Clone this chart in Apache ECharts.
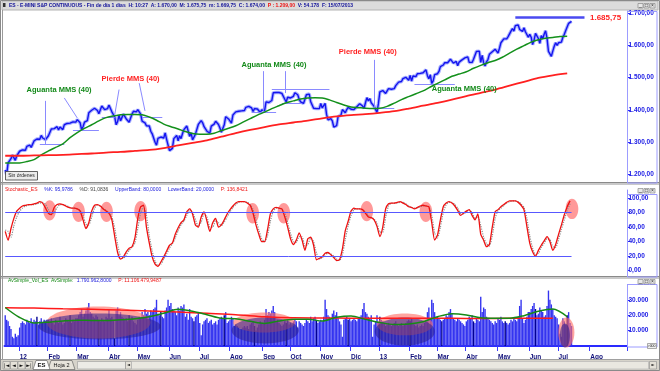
<!DOCTYPE html>
<html><head><meta charset="utf-8">
<script src="https://cdn.jsdelivr.net/npm/echarts@6/dist/echarts.min.js"></script>
<style>html,body{margin:0;padding:0;background:#fff;overflow:hidden}#c{width:660px;height:371px}</style>
</head><body><div id="c"></div>
<script>
// ================= DATA =================
const monthLabels = ['', '12', 'Feb', 'Mar', 'Abr', 'May', 'Jun', 'Jul', 'Ago', 'Sep', 'Oct', 'Nov', 'Dic', '13', 'Feb', 'Mar', 'Abr', 'May', 'Jun', 'Jul', 'Ago'];

// daily closes (ES continuous) per month
const close_2011_12 = [1214, 1200, 1236, 1238, 1249, 1260, 1260, 1244, 1258, 1252];
const close_2012_01 = [1272, 1272, 1276, 1273, 1275, 1287, 1287, 1291, 1284, 1288, 1304, 1310, 1310, 1311, 1309, 1321, 1313, 1311, 1308, 1307];
const close_2012_02 = [1320, 1322, 1341, 1340, 1342, 1346, 1348, 1338, 1347, 1348, 1339, 1354, 1356, 1358, 1353, 1359, 1361, 1363, 1363, 1362];
const close_2012_03 = [1370, 1366, 1360, 1339, 1348, 1362, 1366, 1367, 1391, 1390, 1399, 1400, 1405, 1401, 1398, 1388, 1393, 1412, 1408, 1401, 1399, 1404];
const close_2012_04 = [1415, 1409, 1394, 1394, 1378, 1354, 1364, 1384, 1366, 1366, 1387, 1381, 1372, 1374, 1362, 1367, 1387, 1396, 1399, 1394];
const close_2012_05 = [1401, 1398, 1387, 1365, 1365, 1360, 1351, 1353, 1350, 1334, 1326, 1321, 1300, 1291, 1312, 1314, 1316, 1314, 1313, 1329, 1309, 1306];
const close_2012_06 = [1274, 1280, 1281, 1311, 1311, 1321, 1304, 1320, 1311, 1326, 1339, 1338, 1350, 1348, 1318, 1329, 1307, 1313, 1325, 1322, 1355];
const close_2012_07 = [1358, 1367, 1360, 1348, 1345, 1334, 1334, 1328, 1350, 1346, 1356, 1365, 1369, 1355, 1344, 1331, 1330, 1354, 1379, 1378, 1372];
const close_2012_08 = [1368, 1359, 1384, 1387, 1394, 1395, 1396, 1398, 1397, 1397, 1398, 1408, 1411, 1411, 1406, 1406, 1395, 1404, 1403, 1403, 1404, 1392, 1400];
const close_2012_09 = [1398, 1397, 1425, 1431, 1423, 1426, 1429, 1453, 1459, 1454, 1452, 1454, 1453, 1451, 1448, 1433, 1425, 1439, 1433];
const close_2012_10 = [1437, 1438, 1442, 1453, 1452, 1447, 1433, 1425, 1425, 1420, 1433, 1447, 1452, 1449, 1425, 1425, 1405, 1401, 1404, 1403, 1404];
const close_2012_11 = [1420, 1406, 1410, 1420, 1386, 1369, 1372, 1373, 1366, 1347, 1345, 1351, 1379, 1379, 1384, 1401, 1398, 1391, 1401, 1408, 1408];
const close_2012_12 = [1402, 1399, 1401, 1405, 1410, 1410, 1419, 1421, 1412, 1405, 1422, 1438, 1428, 1435, 1422, 1418, 1411, 1410, 1392, 1420];
const close_2013_01 = [1456, 1453, 1460, 1456, 1451, 1455, 1466, 1466, 1464, 1466, 1466, 1475, 1480, 1486, 1489, 1488, 1497, 1494, 1501, 1496, 1492];
const close_2013_02 = [1507, 1489, 1505, 1506, 1503, 1512, 1512, 1513, 1514, 1515, 1514, 1524, 1506, 1496, 1509, 1482, 1490, 1509, 1509];
const close_2013_03 = [1512, 1519, 1534, 1535, 1539, 1546, 1551, 1546, 1549, 1557, 1553, 1545, 1540, 1550, 1537, 1548, 1543, 1555, 1555, 1561];
const close_2013_04 = [1556, 1564, 1547, 1553, 1547, 1557, 1562, 1581, 1587, 1582, 1547, 1569, 1546, 1536, 1549, 1556, 1572, 1572, 1580, 1576, 1588, 1592];
const close_2013_05 = [1576, 1591, 1608, 1611, 1620, 1626, 1620, 1627, 1627, 1644, 1652, 1644, 1661, 1661, 1663, 1649, 1644, 1643, 1654, 1642, 1648, 1625];
const close_2013_06 = [1634, 1625, 1602, 1616, 1637, 1637, 1621, 1606, 1630, 1620, 1634, 1645, 1622, 1581, 1586, 1566, 1582, 1597, 1608, 1600];
const close_2013_07 = [1608, 1609, 1610, 1625, 1634, 1646, 1647, 1668, 1673, 1674];

// daily volume (thousands) per month
const vol_2011_12 = [20, 17, 16, 13, 11, 6, 5, 8, 6, 7];
const vol_2012_01 = [12, 15, 16, 15, 14, 17, 16, 15, 18, 15, 17, 16, 19, 14, 16, 18, 15, 17, 16, 17];
const vol_2012_02 = [17, 16, 18, 15, 14, 17, 16, 15, 19, 16, 14, 15, 18, 17, 16, 20, 15, 17, 16, 18];
const vol_2012_03 = [18, 20, 22, 24, 19, 21, 23, 25, 28, 22, 21, 19, 18, 20, 19, 17, 16, 18, 17, 16, 19, 18];
const vol_2012_04 = [24, 18, 19, 17, 5, 23, 25, 20, 22, 19, 18, 17, 18, 16, 20, 17, 19, 16, 15, 14];
const vol_2012_05 = [17, 19, 18, 22, 20, 24, 21, 22, 20, 23, 22, 24, 25, 30, 21, 20, 22, 19, 18, 23, 25, 30];
const vol_2012_06 = [26, 28, 24, 23, 22, 20, 25, 23, 26, 25, 27, 19, 21, 17, 24, 19, 18, 16, 19, 20, 22];
const vol_2012_07 = [15, 7, 14, 16, 17, 18, 15, 16, 17, 14, 15, 16, 14, 17, 18, 19, 18, 20, 22, 15, 16];
const vol_2012_08 = [17, 19, 18, 13, 14, 13, 12, 11, 11, 12, 13, 12, 13, 11, 14, 15, 16, 13, 10, 12, 14, 16, 15];
const vol_2012_09 = [15, 17, 24, 20, 22, 21, 23, 26, 22, 16, 17, 15, 14, 13, 14, 16, 15, 17, 14];
const vol_2012_10 = [15, 14, 16, 17, 16, 12, 16, 15, 14, 13, 15, 17, 16, 15, 19, 16, 18, 19, 17, 15, 16];
const vol_2012_11 = [17, 16, 19, 30, 24, 20, 19, 17, 21, 23, 20, 22, 18, 16, 14, 6, 17, 18, 19, 17, 18];
const vol_2012_12 = [16, 17, 18, 17, 16, 18, 19, 20, 24, 28, 22, 21, 19, 18, 20, 6, 14, 16, 20, 15];
const vol_2013_01 = [19, 17, 16, 15, 13, 14, 15, 14, 13, 14, 15, 16, 14, 13, 14, 15, 13, 14, 15, 16, 17];
const vol_2013_02 = [16, 18, 15, 14, 13, 14, 12, 13, 14, 13, 15, 17, 22, 25, 18, 30, 28, 22, 19];
const vol_2013_03 = [19, 18, 17, 16, 17, 18, 20, 19, 22, 24, 21, 18, 17, 16, 18, 17, 16, 15, 14, 13];
const vol_2013_04 = [16, 17, 19, 18, 20, 16, 15, 18, 17, 16, 32, 22, 25, 24, 19, 18, 17, 16, 15, 14, 16, 15];
const vol_2013_05 = [18, 17, 19, 16, 15, 16, 15, 14, 15, 17, 16, 18, 17, 16, 19, 26, 30, 18, 15, 17, 19, 22];
const vol_2013_06 = [22, 24, 26, 28, 24, 20, 21, 25, 23, 22, 19, 20, 26, 36, 30, 27, 24, 20, 19, 18];
const vol_2013_07 = [14, 8, 6, 18, 16, 14, 20, 22, 15, 13];

const closesByMonth = [close_2011_12, close_2012_01, close_2012_02, close_2012_03, close_2012_04, close_2012_05, close_2012_06, close_2012_07, close_2012_08, close_2012_09, close_2012_10, close_2012_11, close_2012_12, close_2013_01, close_2013_02, close_2013_03, close_2013_04, close_2013_05, close_2013_06, close_2013_07];
const volByMonth = [vol_2011_12, vol_2012_01, vol_2012_02, vol_2012_03, vol_2012_04, vol_2012_05, vol_2012_06, vol_2012_07, vol_2012_08, vol_2012_09, vol_2012_10, vol_2012_11, vol_2012_12, vol_2013_01, vol_2013_02, vol_2013_03, vol_2013_04, vol_2013_05, vol_2013_06, vol_2013_07];
const emptySessionsJul = 12;   // rest of July 2013 (no data yet)
const emptySessionsAug = 26;   // August 2013 (no data yet)

// MMS(40) sampled every 5 sessions, MMS(200) every 10 sessions
const ma40Step = 5;
const ma40 = [1236,1236,1236,1240,1246,1261,1273,1284,1295,1314, 1330,1343,1354,1366,1376,1381,1385,1386,1386,1385, 1378,1368,1356,1348,1341,1333,1327,1325,1325,1328, 1336,1343,1351,1362,1373,1384,1393,1404,1413,1422, 1428,1434,1437,1438,1437,1431,1423,1415,1409,1407, 1405,1404,1405,1411,1421,1432,1441,1450,1459,1471, 1482,1493,1504,1511,1518,1529,1538,1546,1553,1563, 1576,1588,1599,1610,1617,1622,1624,1627,1628];
const ma200Step = 10;
const ma200 = [1258,1258,1259,1260,1261,1263,1265,1268,1270,1273, 1276,1282,1290,1298,1306,1317,1328,1338,1347,1355, 1361,1367,1374,1380,1384,1387,1391,1396,1404,1413, 1422,1432,1443,1453,1463,1475,1487,1499,1507,1513];

// Stochastic %K / %D sampled every 2 sessions
const stochStep = 2;
const stochK = [54,42,58,72,82,86,89,90,91,91, 92,93,95,93,86,79,77,87,91,92, 91,89,87,86,86,85,82,70,58,66, 82,90,91,89,85,82,79,70,47,25, 16,19,26,31,33,45,72,88,90,60, 38,19,9,6,12,19,27,35,38,50, 59,66,70,81,85,78,63,60,74,81, 68,54,66,72,60,63,70,78,84,89, 93,95,95,95,93,90,79,63,50,40, 40,56,78,85,87,86,85,74,60,44, 36,42,52,42,28,44,46,35,15,17, 19,24,25,22,18,14,15,30,55,68, 82,86,85,85,84,79,74,73,70,61, 47,60,85,92,93,93,94,95,93,91, 88,87,85,87,89,90,89,88,66,42, 49,70,88,93,95,93,89,83,76,79, 82,84,76,70,78,50,42,33,36,60, 81,84,88,91,94,96,96,96,94,90, 84,61,38,26,20,28,35,41,47,40, 28,36,50,63,77,88,96];
const stochD = [56,54,46,62,74,82,86,89,90,91, 91,92,93,94,91,84,78,80,87,91, 91,90,88,86,86,85,83,76,64,63, 74,86,90,89,86,83,80,74,58,36, 20,17,22,28,32,38,58,80,88,76, 48,27,13,7,9,16,23,31,37,45, 55,63,68,76,83,81,70,61,67,78, 74,60,60,69,66,62,67,74,81,87, 91,94,95,95,94,91,84,70,56,44, 40,48,68,82,86,86,85,79,66,51, 40,39,47,47,34,36,45,40,24,16, 18,22,24,23,20,16,14,22,43,62, 76,84,85,85,84,81,76,73,71,65, 53,53,74,89,93,93,93,94,94,92, 89,87,86,86,88,89,89,88,76,52, 45,60,80,91,94,94,91,86,79,78, 81,83,80,72,74,62,46,37,34,48, 72,83,86,90,93,95,96,96,95,92, 87,72,48,31,22,24,32,38,44,43, 33,32,43,57,70,83,92];
const stochUpper = 80, stochLower = 20;

// volume averages (thousands)
const volMaShortStep = 10;
const volMaShort = [25, 18.5, 15, 15.5, 16.3, 16.8, 16.6, 16.5, 17, 17.7, 19, 21.3, 23.8, 22.5, 20.3, 18, 17.7, 16, 14.6, 16.2, 17.3, 17.4, 16.2, 18.6, 19.4, 17.3, 15.3, 14, 14.3, 15.8, 19, 21, 20.2, 18.3, 18, 18, 19.7, 22.5, 24, 19];
const volMaLongStep = 20;
const volMaLong = [24.9, 24.6, 24.2, 23.9, 23.3, 22.8, 22.1, 21.2, 20.3, 19.0, 18.3, 18.2, 18.1, 18.0, 18.0, 18.0, 17.9, 17.9, 18.0, 18.1];
const darkVolDays = [22, 45, 65, 76, 86, 108, 131, 152, 173, 195, 216, 238, 260, 281, 303, 325, 347, 368, 390];

// ================= ANNOTATIONS (data coordinates) =================
const priceNoteLines = [
  [[27.5,1428],[27.5,1294]], [[23.8,1294],[40.5,1294]], [[41.2,1437],[49.5,1375]], [[47.4,1336],[64.8,1336]],
  [[79.4,1463],[75.9,1385]], [[92.6,1483],[96.7,1397]], [[66.9,1378],[75.9,1378]], [[94.7,1377],[108.5,1377]],
  [[178.7,1520],[178.7,1397]], [[171,1393],[188.4,1393]], [[194,1520],[194,1452]], [[185,1465],[224.5,1465]],
  [[192,1421],[206,1421]], [[255.6,1555],[255.6,1406]], [[252,1406],[269.6,1406]], [[284.2,1478],[312,1478]]
];
const topLevel = 1685.75;
const topLevelSpan = [354, 402];
const priceNotes = [
  {text:'Aguanta MMS (40)', kind:'g', i:14.8, v:1462},
  {text:'Pierde MMS (40)', kind:'r', i:66.9, v:1497},
  {text:'Aguanta MMS (40)', kind:'g', i:164, v:1539},
  {text:'Pierde MMS (40)', kind:'r', i:231.5, v:1579},
  {text:'Aguanta MMS (40)', kind:'g', i:296, v:1466},
  {text:'1.685,75', kind:'r', i:405.8, v:1684.5}
];
const stochMarks = [[30.8,83],[50.9,81],[70.3,81],[94,82],[171.7,79],[193.3,79],[250.9,82],[291.9,81],[393.3,85]];
const volZonesRed = [[64.8,15.3,36,10.4],[179.7,15.3,21.5,6.5],[277.3,14.0,19.4,7.1],[389.4,8.8,5.6,9.7]];
const volZonesBlue = [[65.5,12.7,42.4,8.4],[180.4,10.1,23.3,8.4],[277.3,9.4,20.8,9.1],[388.4,6.8,3.5,7.8]];

// ================= BUILD =================
const cats = [], catLabel = [], closes = [], vols = [];
closesByMonth.forEach((m, mi) => {
  m.forEach((c, d) => {
    cats.push(mi + '_' + d); catLabel.push(d === 0 ? monthLabels[mi] : '');
    closes.push(c); vols.push(volByMonth[mi][d]);
  });
});
for (let k = 0; k < emptySessionsJul; k++) { cats.push('19_e' + k); catLabel.push(''); }
for (let k = 0; k < emptySessionsAug; k++) { cats.push('20_' + k); catLabel.push(k === 0 ? monthLabels[20] : ''); }

const pairs = (arr, step) => arr.map((v, i) => [i * step, v]);
const thou = n => String(Math.round(n)).replace(/\B(?=(\d{3})+(?!\d))/g, '.');
const labelInterval = (idx) => catLabel[idx] !== '';
const FONT = 'Liberation Sans, Arial, sans-serif';
const lastIdx = closes.length - 1;

const volData = vols.map((v, i) => darkVolDays.includes(i) ? {value: v, itemStyle: {color: '#000090'}} : v);

const axisY = (grid, extra) => Object.assign({
  gridIndex: grid, type: 'value', position: 'right', splitLine: {show: false},
  axisLine: {show: true, lineStyle: {color: '#8c8cff', width: 1}},
  axisTick: {show: true, length: 3, lineStyle: {color: '#2b2bff'}},
  axisLabel: {color: '#2020e6', fontSize: 6.5, fontWeight: 'bold', fontFamily: FONT, margin: 1.5, showMinLabel: false, showMaxLabel: false}
}, extra);

const hiddenX = g => ({gridIndex: g, type: 'category', data: cats, boundaryGap: true, show: false});

const option = {
  animation: false,
  backgroundColor: '#ffffff',
  grid: [
    {left: 4.5, right: 33, top: 11, height: 171, containLabel: false, outerBoundsMode: 'none'},
    {left: 4.5, right: 33, top: 190, height: 86, containLabel: false, outerBoundsMode: 'none'},
    {left: 4.5, right: 33, top: 284.4, height: 61.6, containLabel: false, outerBoundsMode: 'none'}
  ],
  xAxis: [
    hiddenX(0), hiddenX(1),
    {gridIndex: 2, type: 'category', data: cats, boundaryGap: true,
      axisLine: {show: true, lineStyle: {color: '#2a2aff', width: 2}},
      axisTick: {show: true, interval: labelInterval, length: 5, lineStyle: {color: '#3a3aff'}},
      axisLabel: {interval: labelInterval, formatter: (val, idx) => catLabel[idx], align: 'left', color: '#10107a', fontSize: 6.5, fontWeight: 'bold', fontFamily: FONT, margin: 8},
      splitLine: {show: false}}
  ],
  yAxis: [
    axisY(0, {min: 1176.8, max: 1706.2}),
    axisY(1, {min: -7.3, max: 111}),
    axisY(2, {min: 0, max: 40, interval: 10})
  ],
  series: [
    {type: 'line', xAxisIndex: 0, yAxisIndex: 0, data: closes, showSymbol: false, symbol: 'none', silent: true, z: 3,
      lineStyle: {color: '#a9b1ff', width: 3.5}},
    {type: 'line', xAxisIndex: 0, yAxisIndex: 0, data: closes, showSymbol: false, symbol: 'none', silent: true, z: 4,
      lineStyle: {color: '#1414ee', width: 1.4},
      markLine: {silent: true, symbol: ['none', 'none'], label: {show: false}, animation: false,
        data: priceNoteLines.map(l => [{coord: l[0], lineStyle: {color: '#8a8aff', width: 1, type: 'solid'}}, {coord: l[1]}])
          .concat([[{coord: [topLevelSpan[0], topLevel], lineStyle: {color: '#4a4af0', width: 2.5, type: 'solid'}}, {coord: [topLevelSpan[1], topLevel]}]])}},
    {type: 'line', xAxisIndex: 0, yAxisIndex: 0, data: pairs(ma40, ma40Step), showSymbol: false, symbol: 'none', smooth: 0.3, silent: true, z: 5,
      lineStyle: {color: '#13901b', width: 1.5}},
    {type: 'line', xAxisIndex: 0, yAxisIndex: 0, data: pairs(ma200, ma200Step), showSymbol: false, symbol: 'none', smooth: 0.3, silent: true, z: 5,
      lineStyle: {color: '#ff2020', width: 1.8}},
    {type: 'line', xAxisIndex: 1, yAxisIndex: 1, data: pairs(stochD, stochStep), showSymbol: false, symbol: 'none', smooth: 0.2, silent: true, z: 3,
      lineStyle: {color: '#8a8a8a', width: 1.2, type: 'dotted'}},
    {type: 'line', xAxisIndex: 1, yAxisIndex: 1, data: pairs(stochK, stochStep), showSymbol: false, symbol: 'none', smooth: 0.2, silent: true, z: 4,
      lineStyle: {color: '#ee1111', width: 1.3},
      markLine: {silent: true, symbol: ['none', 'none'], label: {show: false}, animation: false,
        lineStyle: {color: '#5858ff', width: 1, type: 'solid'},
        data: [[{coord: [0, stochUpper]}, {coord: [lastIdx, stochUpper]}], [{coord: [0, stochLower]}, {coord: [lastIdx, stochLower]}]]}},
    {type: 'bar', xAxisIndex: 2, yAxisIndex: 2, data: volData, barCategoryGap: '4%', silent: true, z: 1,
      itemStyle: {color: '#3434f0'}},
    {type: 'line', xAxisIndex: 2, yAxisIndex: 2, data: pairs(volMaLong, volMaLongStep), showSymbol: false, symbol: 'none', smooth: 0.3, silent: true, z: 6,
      lineStyle: {color: '#ff1a1a', width: 1.5}},
    {type: 'line', xAxisIndex: 2, yAxisIndex: 2, data: pairs(volMaShort, volMaShortStep), showSymbol: false, symbol: 'none', smooth: 0.3, silent: true, z: 7,
      lineStyle: {color: '#168a16', width: 1.5}}
  ]
};
option.yAxis[0].axisLabel.formatter = v => (Math.abs(v % 100) < 1e-6 ? thou(v) + ',00' : '');
option.yAxis[1].axisLabel.formatter = v => (Math.abs(v % 20) < 1e-6 && v >= 0 && v <= 100 ? v + ',00' : '');
option.yAxis[2].axisLabel.formatter = v => (v > 0 && v < 40 ? thou(v * 1000) : '');

const chart = echarts.init(document.getElementById('c'), null, {renderer: 'canvas'});
chart.setOption(option);

// ----- annotations through the axes' own scales -----
function mapper(g, vRef) {
  const a = chart.convertToPixel({gridIndex: g}, [0, vRef]);
  const b = chart.convertToPixel({gridIndex: g}, [100, vRef + 10]);
  const sx = (b[0] - a[0]) / 100, sy = (b[1] - a[1]) / 10;
  return {pt: (i, v) => [a[0] + i * sx, a[1] + (v - vRef) * sy], sx: sx, sy: Math.abs(sy)};
}
const mP = mapper(0, 1400), mS = mapper(1, 50), mV = mapper(2, 10);
const g = [];
const txt = (x, y, text, font, fill, extra) => ({type: 'text', x: x, y: y, z: 50, silent: true,
  style: Object.assign({text: text, font: font, fill: fill, textVerticalAlign: 'middle'}, extra || {})});

// chrome
g.push({type: 'rect', z: 0, silent: true, shape: {x: 2, y: 1, width: 656, height: 9}, style: {fill: '#dcdcdc', stroke: '#b4b4b4', lineWidth: 1}});
g.push({type: 'text', x: 9, y: 5.8, z: 50, silent: true, style: {
  text: '{b|ES - E-MINI S&P CONTINUOUS - Fin de día 1 días  H: 10:27  A: 1.670,00  M: 1.675,75  m: 1.669,75  C: 1.674,00  }{r|P : 1.209,00}{b|  V: 54.178  F: 15/07/2013}',
  textVerticalAlign: 'middle',
  rich: {b: {fill: '#12129a', font: 'bold 5px ' + FONT}, r: {fill: '#ee1010', font: 'bold 5px ' + FONT}}}});
g.push({type: 'rect', z: 50, silent: true, shape: {x: 3, y: 3, width: 2.5, height: 4}, style: {fill: '#333'}});
// window buttons
[[3.5], [188.5], [279.5]].forEach(([yy]) => {
  [638, 644, 650].forEach((xx, k) => {
    g.push({type: 'rect', z: 50, silent: true, shape: {x: xx, y: yy, width: 5, height: 4.5}, style: {fill: '#e8e8e8', stroke: '#7a7a7a', lineWidth: 0.6}});
    g.push(txt(xx + 2.5, yy + 2.4, ['_', '□', '×'][k], '5px ' + FONT, '#222', {textAlign: 'center'}));
  });
});
// panel separators
g.push({type: 'rect', z: 0, silent: true, shape: {x: 0, y: 182.5, width: 660, height: 2.5}, style: {fill: '#c9c9c9'}});
g.push({type: 'line', z: 1, silent: true, shape: {x1: 0, y1: 182.5, x2: 660, y2: 182.5}, style: {stroke: '#8a8a8a', lineWidth: 1}});
g.push({type: 'rect', z: 0, silent: true, shape: {x: 0, y: 276.5, width: 660, height: 2.5}, style: {fill: '#c9c9c9'}});
g.push({type: 'line', z: 1, silent: true, shape: {x1: 0, y1: 276.5, x2: 660, y2: 276.5}, style: {stroke: '#8a8a8a', lineWidth: 1}});
// axis boxes
[[11, 171.5], [194, 82.5], [284, 62.5]].forEach(([yy, hh]) => {
  g.push({type: 'rect', z: 1, silent: true, shape: {x: 627.5, y: yy + 0.5, width: 29.5, height: hh}, style: {fill: 'none', stroke: '#9c9cff', lineWidth: 1}});
});
// frame
g.push({type: 'rect', z: 60, silent: true, shape: {x: 0.5, y: 0.5, width: 659, height: 370}, style: {fill: 'none', stroke: '#8a8a8a', lineWidth: 1}});
g.push({type: 'line', z: 60, silent: true, shape: {x1: 2.5, y1: 10, x2: 2.5, y2: 359}, style: {stroke: '#9a9a9a', lineWidth: 1}});
// Sin órdenes
g.push({type: 'rect', z: 50, silent: true, shape: {x: 5.5, y: 171.5, width: 32, height: 8.5}, style: {fill: '#ececec', stroke: '#3c3c3c', lineWidth: 0.8}});
g.push(txt(21.5, 176, 'Sin órdenes', '5px ' + FONT, '#222', {textAlign: 'center'}));
// panel headers
g.push({type: 'text', x: 5, y: 189.5, z: 50, silent: true, style: {
  text: '{r|Stochastic_ES}  {b|%K: 95,9786}  {k|%D: 91,0836}  {b|UpperBand: 80,0000}  {b|LowerBand: 20,0000}  {r|P: 136,8421}', textVerticalAlign: 'middle',
  rich: {r: {fill: '#ee1111', font: '5px ' + FONT}, b: {fill: '#2020dd', font: '5px ' + FONT}, k: {fill: '#444', font: '5px ' + FONT}}}});
g.push({type: 'text', x: 8, y: 281, z: 50, silent: true, style: {
  text: '{g|AvSimple_Vol_ES  AvSimple:} {b|1.790.962,8000}  {r|P: 11.106.479,9487}', textVerticalAlign: 'middle',
  rich: {r: {fill: '#ee1111', font: '5px ' + FONT}, b: {fill: '#2020dd', font: '5px ' + FONT}, g: {fill: '#168a16', font: '5px ' + FONT}}}});
g.push({type: 'rect', z: 50, silent: true, shape: {x: 647.5, y: 343.5, width: 9, height: 5}, style: {fill: '#eee', stroke: '#777', lineWidth: 0.6}});
g.push(txt(652, 346.2, 'r000', '3.5px ' + FONT, '#222', {textAlign: 'center'}));
// bottom tab bar
g.push({type: 'rect', z: 40, silent: true, shape: {x: 0, y: 359.5, width: 660, height: 11.5}, style: {fill: '#d6d3ca'}});
g.push({type: 'line', z: 41, silent: true, shape: {x1: 0, y1: 359.5, x2: 660, y2: 359.5}, style: {stroke: '#a0a0a0', lineWidth: 1}});
['|◄', '◄', '►', '►|'].forEach((s, k) => {
  g.push({type: 'rect', z: 45, silent: true, shape: {x: 3 + k * 7.5, y: 361.5, width: 7, height: 7.5}, style: {fill: '#e4e1d8', stroke: '#8c8c8c', lineWidth: 0.6}});
  g.push(txt(6.5 + k * 7.5, 365.3, s, '5px DejaVu Sans', '#111', {textAlign: 'center'}));
});
g.push({type: 'polygon', z: 45, silent: true, shape: {points: [[33, 369.5], [36, 360.5], [47, 360.5], [50, 369.5]]}, style: {fill: '#ffffff', stroke: '#666', lineWidth: 0.7}});
g.push(txt(41.5, 365.3, 'ES', 'bold 6px ' + FONT, '#111', {textAlign: 'center'}));
g.push({type: 'polygon', z: 44, silent: true, shape: {points: [[48, 369.5], [51, 360.5], [72, 360.5], [75, 369.5]]}, style: {fill: '#e6e3da', stroke: '#666', lineWidth: 0.7}});
g.push(txt(61.5, 365.3, 'Hoja 2', '5.5px ' + FONT, '#111', {textAlign: 'center'}));
g.push({type: 'rect', z: 45, silent: true, shape: {x: 77.5, y: 361.5, width: 48, height: 7.5}, style: {fill: '#ecebe6', stroke: '#9a9a9a', lineWidth: 0.6}});
g.push({type: 'rect', z: 45, silent: true, shape: {x: 125.5, y: 361.5, width: 6, height: 7.5}, style: {fill: '#e4e1d8', stroke: '#8c8c8c', lineWidth: 0.6}});
g.push(txt(128.5, 365.3, '◄', '4px DejaVu Sans', '#111', {textAlign: 'center'}));
g.push({type: 'rect', z: 45, silent: true, shape: {x: 131.5, y: 361.5, width: 517, height: 7.5}, style: {fill: '#e9e7e0', stroke: '#b0b0b0', lineWidth: 0.6}});
g.push({type: 'rect', z: 45, silent: true, shape: {x: 649.5, y: 361.5, width: 7, height: 7.5}, style: {fill: '#e4e1d8', stroke: '#8c8c8c', lineWidth: 0.6}});
g.push(txt(653, 365.3, '►', '4px DejaVu Sans', '#111', {textAlign: 'center'}));

// price notes
priceNotes.forEach(n => {
  const p = mP.pt(n.i, n.v);
  g.push(txt(p[0], p[1], n.text, 'bold ' + (n.text[0] === '1' ? 8 : 7.5) + 'px ' + FONT, n.kind === 'g' ? '#148a1a' : '#ff2222', {textAlign: 'left'}));
});
// stochastic marks
stochMarks.forEach(m => {
  const p = mS.pt(m[0], m[1]);
  g.push({type: 'ellipse', z: 1, silent: true, shape: {cx: p[0], cy: p[1], rx: 4.4 * mS.sx, ry: 14 * mS.sy}, style: {fill: 'rgba(255,90,90,0.62)'}});
});
// volume zones
volZonesRed.forEach(m => {
  const p = mV.pt(m[0], m[1]);
  g.push({type: 'ellipse', z: 3, silent: true, shape: {cx: p[0], cy: p[1], rx: m[2] * mV.sx, ry: m[3] * mV.sy}, style: {fill: 'rgba(255,110,100,0.62)'}});
});
volZonesBlue.forEach(m => {
  const p = mV.pt(m[0], m[1]);
  g.push({type: 'ellipse', z: 4, silent: true, shape: {cx: p[0], cy: p[1], rx: m[2] * mV.sx, ry: m[3] * mV.sy}, style: {fill: 'rgba(40,30,140,0.55)'}});
});

chart.setOption({graphic: {elements: g}});
</script>
</body></html>
